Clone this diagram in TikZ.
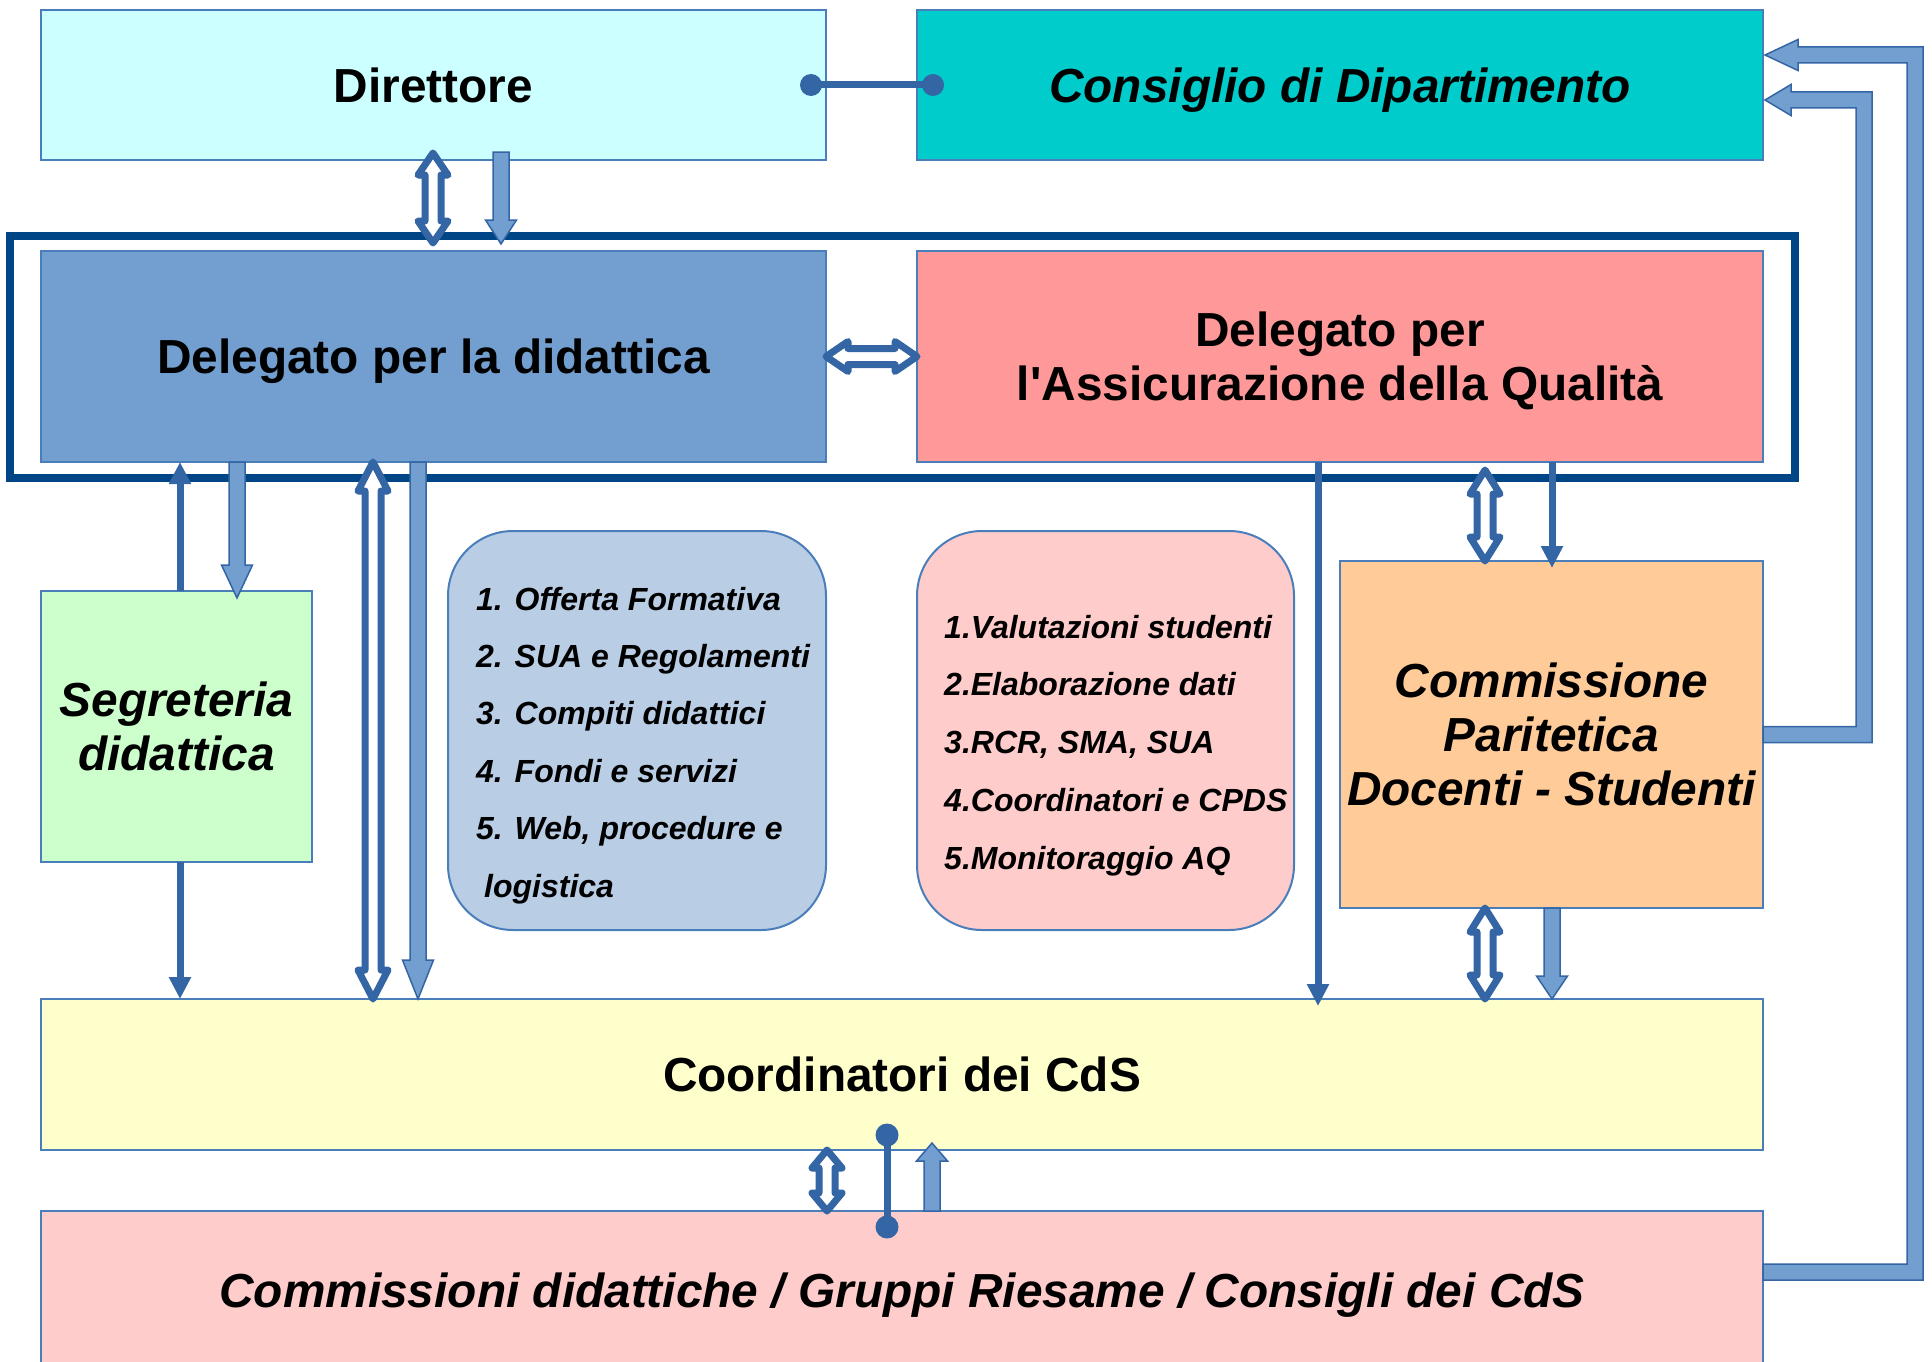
\documentclass[tikz,border=0pt]{standalone}
\usepackage{fontspec}
\setmainfont{Liberation Sans}
\usetikzlibrary{calc,arrows.meta}

\definecolor{boxline}{HTML}{4A7EBB}
\definecolor{linkblue}{HTML}{3465A4}
\definecolor{fatblue}{HTML}{729FCF}
\definecolor{framecol}{HTML}{004586}
\definecolor{dircol}{HTML}{CCFFFF}
\definecolor{conscol}{HTML}{00CCCC}
\definecolor{deldcol}{HTML}{729FCF}
\definecolor{delqcol}{HTML}{FF9999}
\definecolor{segrcol}{HTML}{CCFFCC}
\definecolor{offdcol}{HTML}{B9CDE5}
\definecolor{offqcol}{HTML}{FFCCCC}
\definecolor{cpdscol}{HTML}{FFCC99}
\definecolor{coordcol}{HTML}{FFFFCC}
\definecolor{commcol}{HTML}{FFCCCC}

\tikzset{
  box/.style={draw=boxline, line width=2pt, inner sep=0pt, outer sep=0pt, align=center,
    text depth=0pt, font=\fontsize{47.8}{54}\selectfont\bfseries},
  boxit/.style={box, font=\fontsize{47.8}{54}\selectfont\bfseries\itshape},
  listbox/.style={draw=boxline, line width=2pt, rounded corners=65pt, inner sep=0pt, outer sep=0pt},
  listtext/.style={anchor=west, inner sep=0pt, text height=23pt, text depth=7pt,
    font=\fontsize{32}{38}\selectfont\bfseries\itshape},
  link/.style={draw=linkblue, line width=7pt},
  linkarrow/.style={link, -{Triangle[width=21pt,length=22pt]}},
  fatarrow/.style={draw=linkblue, fill=fatblue, line width=1.5pt, line join=miter},
  hollow/.style={draw=linkblue, fill=white, line width=7pt, line join=round},
  bigframe/.style={draw=framecol, line width=7.5pt}
}

% block arrow, vertical: start, tip, head length
\newcommand{\fatv}[3]{%
  \path (#1) coordinate (fa) (#2) coordinate (fb);
  \draw[fatarrow] let \p1=(fa), \p2=(fb), \p3=($(fb)!#3pt!(fa)$) in
    (\x1-8pt,\y1) -- (\x1-8pt,\y3) -- (\x1-15.5pt,\y3) -- (\x2,\y2)
    -- (\x1+15.5pt,\y3) -- (\x1+8pt,\y3) -- (\x1+8pt,\y1) -- cycle;}
% outlined double arrow, vertical and horizontal
\newcommand{\hollowv}[3]{%
  \path (#1) coordinate (ha) (#2) coordinate (hb);
  \draw[hollow] let \p1=(ha), \p2=(hb), \p3=($(ha)!#3pt!(hb)$), \p4=($(hb)!#3pt!(ha)$) in
    (\x1,\y1) -- (\x1+15pt,\y3) -- (\x1+8pt,\y3) -- (\x1+8pt,\y4) -- (\x1+15pt,\y4)
    -- (\x1,\y2) -- (\x1-15pt,\y4) -- (\x1-8pt,\y4) -- (\x1-8pt,\y3) -- (\x1-15pt,\y3) -- cycle;}
\newcommand{\hollowh}[3]{%
  \path (#1) coordinate (ha) (#2) coordinate (hb);
  \draw[hollow] let \p1=(ha), \p2=(hb), \p3=($(ha)!#3pt!(hb)$), \p4=($(hb)!#3pt!(ha)$) in
    (\x1,\y1) -- (\x3,\y1+15pt) -- (\x3,\y1+8pt) -- (\x4,\y1+8pt) -- (\x4,\y1+15pt)
    -- (\x2,\y1) -- (\x4,\y1-15pt) -- (\x4,\y1-8pt) -- (\x3,\y1-8pt) -- (\x3,\y1-15pt) -- cycle;}
% feedback pipe on the right: start, x of the riser, tip, head length
\newcommand{\pipe}[4]{%
  \path (#1) coordinate (pa) (#3) coordinate (pb);
  \draw[fatarrow] let \p1=(pa), \p2=(pb) in
    (\x1,\y1-8pt) -- (#2pt+8pt,\y1-8pt) -- (#2pt+8pt,\y2+8pt) -- (\x2+#4pt,\y2+8pt)
    -- (\x2+#4pt,\y2+15.5pt) -- (\x2,\y2) -- (\x2+#4pt,\y2-15.5pt) -- (\x2+#4pt,\y2-8pt)
    -- (#2pt-8pt,\y2-8pt) -- (#2pt-8pt,\y1+8pt) -- (\x1,\y1+8pt) -- cycle;}

\begin{document}
\begin{tikzpicture}[x=1pt,y=-1pt]
\useasboundingbox (0,0) rectangle (1932,1362);

\node[box, fill=dircol, minimum width=785pt, minimum height=150pt] (dir) at (433.5,85) {Direttore};
\node[boxit, fill=conscol, minimum width=846pt, minimum height=150pt] (cons) at (1340,85) {Consiglio di Dipartimento};
\node[box, fill=deldcol, minimum width=785pt, minimum height=211pt] (deld) at (433.5,356.5) {Delegato per la didattica};
\node[box, fill=delqcol, minimum width=846pt, minimum height=211pt] (delq) at (1340,356.5) {Delegato per\\l\textquotesingle Assicurazione della Qualità};
\node[boxit, fill=segrcol, minimum width=271pt, minimum height=271pt] (segr) at (176.5,726.5) {Segreteria\\didattica};
\node[listbox, fill=offdcol, minimum width=378pt, minimum height=399pt] (offd) at (637,730.5) {};
\node[listbox, fill=offqcol, minimum width=377pt, minimum height=399pt] (offq) at (1105.5,730.5) {};
\node[boxit, fill=cpdscol, minimum width=423pt, minimum height=347pt] (cpds) at (1551.5,734.5) {Commissione\\Paritetica\\Docenti - Studenti};
\node[box, fill=coordcol, minimum width=1722pt, minimum height=151pt] (coord) at (902,1074.5) {Coordinatori dei CdS};
\node[boxit, fill=commcol, minimum width=1722pt, minimum height=158pt] (comm) at (902,1290) {Commissioni didattiche / Gruppi Riesame / Consigli dei CdS};

\foreach \t [count=\i] in {1. Offerta Formativa, 2. SUA e Regolamenti, 3. Compiti didattici, 4. Fondi e servizi, {5. Web, procedure e}}
  \node[listtext] (d\i) at (476,{602+57.4*(\i-1)}) {\t};
\node[listtext] (d6) at (484,{602+57.4*5}) {logistica};
\foreach \t [count=\i] in {1.Valutazioni studenti, 2.Elaborazione dati, {3.RCR, SMA, SUA}, 4.Coordinatori e CPDS, 5.Monitoraggio AQ}
  \node[listtext] (q\i) at (944,{630+57.75*(\i-1)}) {\t};

\draw[bigframe] (10,236) rectangle (1795,478);

% links
\coordinate (dd1) at ($(dir.east)+(-15,0)$);
\coordinate (dd2) at ($(cons.west)+(16,0)$);
\draw[link] (dd1) -- (dd2);
\fill[linkblue] (dd1) circle (11) (dd2) circle (11);

\hollowv{$(433,0 |- dir.south)+(0,-7)$}{$(433,0 |- deld.north)+(0,-8)$}{22}
\fatv{$(501,0 |- dir.south)+(0,-8)$}{$(501,0 |- deld.north)+(0,-7)$}{24}
\hollowh{deld.east}{delq.west}{22}

\draw[linkarrow] (180,0 |- segr.north) -- (180,0 |- deld.south);
\fatv{237,0 |- deld.south}{$(237,0 |- segr.north)+(0,7)$}{33}
\draw[linkarrow] (180,0 |- segr.south) -- (180,0 |- coord.north);
\hollowv{373,0 |- deld.south}{373,0 |- coord.north}{29}
\fatv{418,0 |- deld.south}{418,0 |- coord.north}{39}

\draw[linkarrow] (1318,0 |- delq.south) -- ($(1318,0 |- coord.north)+(0,7)$);
\hollowv{$(1485,0 |- delq.south)+(0,8)$}{1485,0 |- cpds.north}{24}
\draw[linkarrow] (1552,0 |- delq.south) -- ($(1552,0 |- cpds.north)+(0,7)$);
\hollowv{1485,0 |- cpds.south}{1485,0 |- coord.north}{24}
\fatv{1552,0 |- cpds.south}{1552,0 |- coord.north}{23}

\hollowv{827,0 |- coord.south}{827,0 |- comm.north}{18}
\coordinate (dt1) at ($(887,0 |- coord.south)+(0,-15)$);
\coordinate (dt2) at ($(887,0 |- comm.north)+(0,16)$);
\draw[link] (dt1) -- (dt2);
\fill[linkblue] (dt1) circle (11.5) (dt2) circle (11.5);
\fatv{932,0 |- comm.north}{$(932,0 |- coord.south)+(0,-7)$}{18}

\pipe{$(comm.north east)+(0,61)$}{1915}{$(cons.north east)+(2,45)$}{33}
\pipe{cpds.east}{1864}{$(cons.north east)+(2,90)$}{26}
\end{tikzpicture}
\end{document}
